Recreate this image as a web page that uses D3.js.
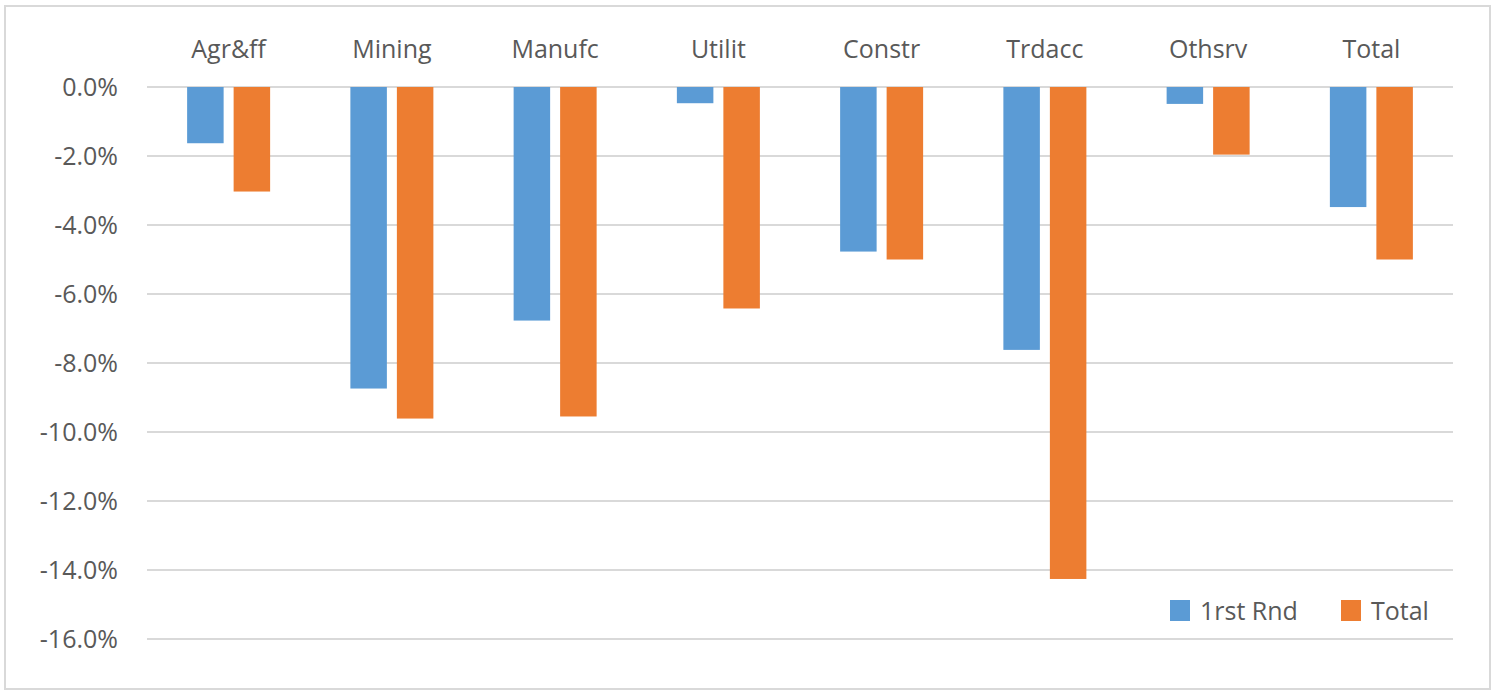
<!DOCTYPE html>
<html>
<head>
<meta charset="utf-8">
<script src="https://cdn.jsdelivr.net/npm/d3@7"></script>
<style>
  body { margin: 0; background: #fff; }
  svg { display: block; font-family: "Open Sans", Lato, sans-serif; }
</style>
</head>
<body>
<svg id="chart" width="1500" height="696"></svg>
<script>
// data (percent)
var categories = ["Agr&ff", "Mining", "Manufc", "Utilit", "Constr", "Trdacc", "Othsrv", "Total"];
var firstRnd = [-1.63, -8.74, -6.77, -0.47, -4.77, -7.62, -0.49, -3.48];
var total    = [-3.03, -9.61, -9.55, -6.42, -5.0, -14.26, -1.96, -5.0];
var seriesNames = ["1rst Rnd", "Total"];
var colors = ["#5b9bd5", "#ed7d31"];
var yTicks = [0, -2, -4, -6, -8, -10, -12, -14, -16];

var svg = d3.select("#chart");
var fs = 25;

// outer frame
svg.append("rect").attr("x", 5).attr("y", 6).attr("width", 1485).attr("height", 683)
  .attr("fill", "#fff").attr("stroke", "#d9d9d9").attr("stroke-width", 2);

var plotL = 147, plotR = 1453, plotT = 87, plotB = 639;

var y = d3.scaleLinear().domain([0, -16]).range([plotT, plotB]);
var x = d3.scaleBand().domain(categories).range([plotL, plotR]).paddingInner(0).paddingOuter(0);
var barW = 36.5, gap = 10;

// gridlines
svg.append("g").selectAll("line").data(yTicks).join("line")
  .attr("x1", plotL).attr("x2", plotR)
  .attr("y1", d => y(d)).attr("y2", d => y(d))
  .attr("stroke", "#d9d9d9").attr("stroke-width", 2);

// y tick labels (plain hyphen like the original)
svg.append("g").selectAll("text").data(yTicks).join("text")
  .attr("x", 118).attr("y", d => y(d)).attr("dy", "0.35em")
  .attr("text-anchor", "end").attr("fill", "#595959").attr("font-size", fs)
  .text(d => d3.format(".1f")(d).replace("\u2212", "-") + "%");

// category labels above
svg.append("g").selectAll("text").data(categories).join("text")
  .attr("x", d => x(d) + x.bandwidth() / 2).attr("y", 58)
  .attr("text-anchor", "middle").attr("fill", "#595959").attr("font-size", fs)
  .text(d => d);

// bars
var series = [firstRnd, total];
series.forEach(function (vals, s) {
  svg.append("g").selectAll("rect").data(vals).join("rect")
    .attr("x", (d, i) => x(categories[i]) + x.bandwidth() / 2 + (s === 0 ? -gap / 2 - barW : gap / 2))
    .attr("y", y(0))
    .attr("width", barW)
    .attr("height", d => y(d) - y(0))
    .attr("fill", colors[s]);
});

// legend
var legX = [1170, 1341];
seriesNames.forEach(function (n, i) {
  svg.append("rect").attr("x", legX[i]).attr("y", 600).attr("width", 20).attr("height", 21)
    .attr("fill", colors[i]);
  svg.append("text").attr("x", legX[i] + 30).attr("y", 620)
    .attr("fill", "#595959").attr("font-size", fs).text(n);
});
</script>
</body>
</html>
